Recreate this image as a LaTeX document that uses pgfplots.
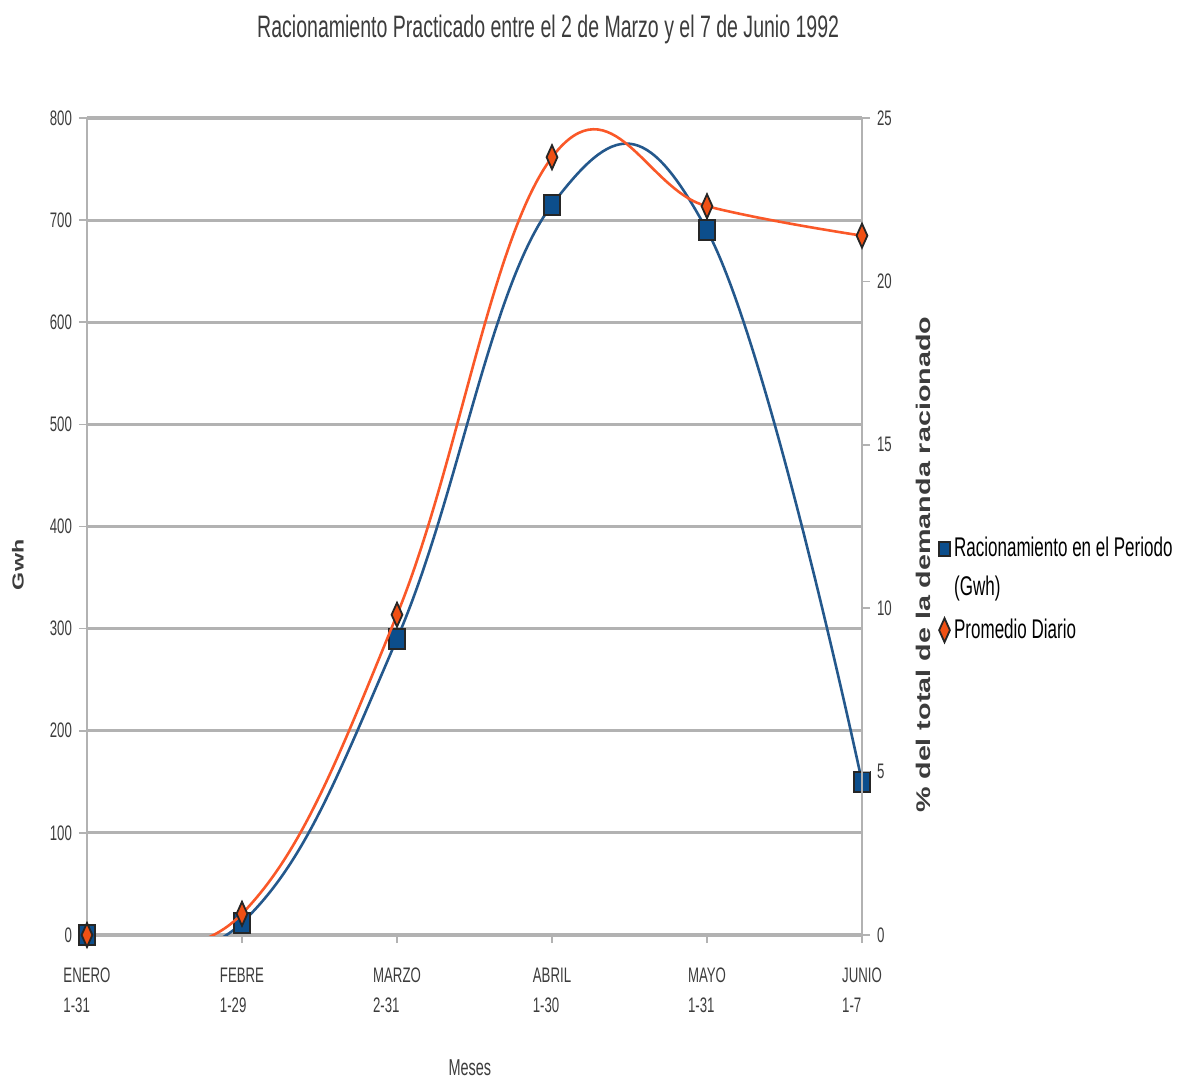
\documentclass[border=0pt]{standalone}
\usepackage{fontspec}
\setmainfont{Liberation Sans}[FakeStretch=0.63]
\newfontfamily\wide{Liberation Sans}[FakeStretch=1.45]
\usepackage{pgfplots}
\pgfplotsset{compat=1.18}
\definecolor{bl}{RGB}{36,88,140}
\definecolor{blm}{RGB}{12,78,140}
\definecolor{orl}{RGB}{250,88,40}
\definecolor{orm}{RGB}{240,80,20}
\definecolor{gr}{RGB}{178,178,178}
\definecolor{txt}{RGB}{60,60,60}
\begin{document}
\begin{tikzpicture}
\pgfplotsset{
  every axis/.append style={
    scale only axis, width=387.5pt, height=408.5pt,
    xmin=0, xmax=5, clip=true,
    tick label style={font=\fontsize{10.5}{12}\selectfont, text=txt},
    /pgf/number format/assume math mode=true,
    tick style={gr, line width=0.8pt},
    major tick length=4pt,
  }
}
\begin{axis}[
  at={(0,0)}, anchor=south west,
  ymin=0, ymax=800, ytick={0,100,...,800},
  axis x line*=bottom, axis y line*=left,
  axis line style={gr, line width=1pt},
  xtick={0,...,5},
  xticklabels={ENERO\\1-31,FEBRE\\1-29,MARZO\\2-31,ABRIL\\1-30,MAYO\\1-31,JUNIO\\1-7},
  xticklabel style={align=left, font=\fontsize{10.5}{15}\selectfont, yshift=-9pt},
  xtick pos=bottom, ytick pos=left,
  tick align=outside,
  ymajorgrids, grid style={gr, line width=1.6pt},
  xlabel={Meses}, xlabel style={at={(axis description cs:0.494,-0.163)}, anchor=center, font=\fontsize{11.5}{14}\selectfont, text=txt},
  ylabel={\wide\bfseries Gwh}, ylabel style={at={(axis description cs:-0.089,0.453)}, anchor=center, font=\fontsize{8}{10}\selectfont, text=txt},
]
\addplot[bl, line width=1.3pt, smooth, tension=0.72,
  mark=square*, mark size=5pt, mark options={fill=blm, draw=black!85, line width=0.9pt, xscale=0.8}]
  coordinates {(0,0) (1,12) (2,290) (3,715) (4,690) (5,150)};
\end{axis}
\begin{axis}[
  at={(0,0)}, anchor=south west,
  ymin=0, ymax=25, ytick={0,5,...,25},
  axis x line=none, axis y line*=right,
  axis line style={gr, line width=1pt},
  tick align=outside, ytick pos=right,
  ylabel={\wide\bfseries \% del total de la demanda racionado},
  ylabel style={at={(axis description cs:1.079,0.453)}, anchor=center, font=\fontsize{9.9}{12}\selectfont, text=txt},
  legend cell align=left,
  legend style={at={(axis description cs:1.091,0.497)}, anchor=north west, draw=none, fill=none,
    font=\fontsize{13.5}{19.5}\selectfont, cells={align=left}, row sep=6pt,
    legend image code/.code={\draw[#1] plot coordinates {(0.12cm,0cm)};}},
]
\addlegendimage{bl, yshift=9.75pt, mark=square*, mark size=3.5pt, mark options={fill=blm, draw=black!85, line width=0.9pt, xscale=0.8}}
\addlegendentry{Racionamiento en el Periodo\\(Gwh)}
\addplot[orl, line width=1.3pt, smooth, tension=0.7,
  mark=diamond*, mark size=6pt, mark options={fill=orm, draw=black!85, line width=0.9pt, xscale=0.6}]
  coordinates {(0,0) (1,0.65) (2,9.8) (3,23.8) (4,22.3) (5,21.4)};
\addlegendentry{Promedio Diario}
\end{axis}
\node[font=\fontsize{15.5}{18}\selectfont, text=txt] at (230.6pt,452.6pt) {Racionamiento Practicado entre el 2 de Marzo y el 7 de Junio 1992};
\pgfresetboundingbox
\path (-43.5pt,-74pt) rectangle (551pt,467.5pt);
\end{tikzpicture}
\end{document}
